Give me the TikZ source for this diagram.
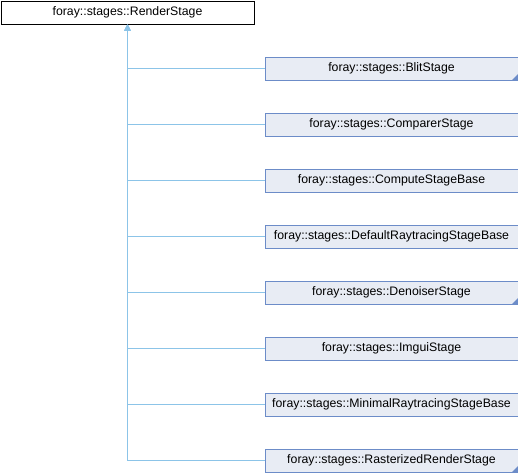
\documentclass[tikz,border=0pt]{standalone}
\usepackage{fontspec}
\setmainfont{Liberation Sans}
\usetikzlibrary{arrows.meta}
\definecolor{edgecol}{RGB}{140,196,232}
\definecolor{boxborder}{RGB}{108,140,200}
\definecolor{boxfill}{RGB}{232,236,244}
\begin{document}
\begin{tikzpicture}[x=1pt,y=-1pt,
  basebox/.style={draw=black, line width=1pt, fill=white, minimum width=253pt, minimum height=23pt, inner sep=0pt, font=\fontsize{12.3}{14}\selectfont, anchor=north west},
  childbox/.style={draw=boxborder, line width=1pt, fill=boxfill, minimum width=253pt, minimum height=23pt, inner sep=0pt, font=\fontsize{12.3}{14}\selectfont, anchor=west},
  inherit/.style={draw=edgecol, line width=1pt, -{Triangle[width=6pt,length=6pt]}},
  corner/.style={fill=boxborder}
]
\useasboundingbox (0,0) rectangle (518,472);
\node[basebox] (base) at (0.5,0.5) {foray::stages::RenderStage};
\foreach \name/\lbl/\y in {
  blit/BlitStage/68.5,
  comparer/ComparerStage/124.5,
  compute/ComputeStageBase/180.5,
  defrt/DefaultRaytracingStageBase/236.5,
  denoiser/DenoiserStage/292.5,
  imgui/ImguiStage/348.5,
  minrt/MinimalRaytracingStageBase/404.5,
  raster/RasterizedRenderStage/460.5}{
  \node[childbox] (\name) at (264.5,\y) {foray::stages::\lbl};
  \draw[inherit] (\name.west) -| (base.south);
}
\foreach \name in {blit,denoiser,raster}{
  \fill[corner] ([xshift=-0.5pt,yshift=0.5pt]\name.south east) -- ++(-6,0) -- ++(6,-6) -- cycle;
}
\end{tikzpicture}
\end{document}
